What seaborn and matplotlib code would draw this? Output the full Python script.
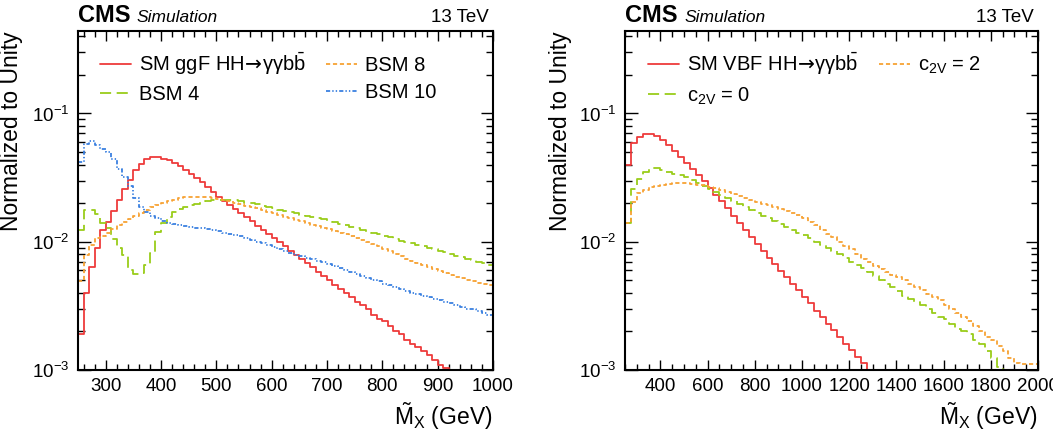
import numpy as np
import pandas as pd
import matplotlib
matplotlib.use("Agg")
import matplotlib.pyplot as plt
import seaborn as sns
from matplotlib.ticker import MultipleLocator, LogLocator, NullFormatter

# ========== DATA ==========
# left panel: ggF, 10 GeV bins from 250 to 1000
ggf_edges = np.arange(250, 1001, 10)
ggf_sm = [0.0019, 0.0040, 0.0063, 0.0090, 0.0124, 0.0143, 0.0175, 0.0213, 0.0260, 0.0305,
          0.0365, 0.0407, 0.0440, 0.0455, 0.0455, 0.0445, 0.0430, 0.0410, 0.0390, 0.0365,
          0.0340, 0.0315, 0.0290, 0.0268, 0.0245,
          0.0225, 0.0209, 0.0194, 0.0180, 0.0167, 0.0155, 0.0144, 0.0133, 0.0124, 0.0115,
          0.0107, 0.0099, 0.0092, 0.0085, 0.0079, 0.0073, 0.0068, 0.0063, 0.0058, 0.0054,
          0.0050, 0.0046, 0.0043, 0.0040, 0.0037, 0.0034, 0.0032, 0.0030, 0.0027, 0.0025,
          0.0024, 0.0022, 0.0020, 0.0019, 0.0017, 0.0016, 0.0015, 0.0014, 0.0013, 0.0012,
          0.0011, 0.00103, 0.00096, 0.00089, 0.00082, 0.00076, 0.00071, 0.00066, 0.00061, 0.00056]
bsm4 = [0.0124, 0.0178, 0.0178, 0.0165, 0.0140, 0.0128, 0.0105, 0.0089, 0.0079, 0.0060,
        0.0056, 0.0057, 0.0066, 0.0082, 0.0119, 0.0139, 0.0155, 0.0172, 0.0180, 0.0188,
        0.0192, 0.0198, 0.0203, 0.0206, 0.0210,
        0.0212, 0.0213, 0.0212, 0.0210, 0.0207, 0.0202, 0.0200, 0.0196, 0.0190, 0.0186,
        0.0182, 0.0178, 0.0174, 0.0171, 0.0167, 0.0163, 0.0160, 0.0156, 0.0153, 0.0150,
        0.0146, 0.0142, 0.0138, 0.0134, 0.0130, 0.0127, 0.0123, 0.0120, 0.0117, 0.0114,
        0.0111, 0.0108, 0.0105, 0.0102, 0.0100, 0.0097, 0.0095, 0.0092, 0.0090, 0.0087,
        0.0085, 0.0083, 0.0080, 0.0078, 0.0076, 0.0074, 0.0072, 0.0070, 0.0068, 0.0066]
bsm8 = [0.0049, 0.0079, 0.0095, 0.0106, 0.0110, 0.0118, 0.0126, 0.0134, 0.0142, 0.0150,
        0.0158, 0.0167, 0.0176, 0.0185, 0.0193, 0.0200, 0.0207, 0.0213, 0.0218, 0.0222,
        0.0224, 0.0225, 0.0224, 0.0222, 0.0219,
        0.0215, 0.0211, 0.0206, 0.0201, 0.0196, 0.0191, 0.0187, 0.0183, 0.0178, 0.0172,
        0.0167, 0.0162, 0.0157, 0.0152, 0.0148, 0.0144, 0.0140, 0.0136, 0.0132, 0.0129,
        0.0126, 0.0122, 0.0118, 0.0114, 0.0110, 0.0107, 0.0104, 0.0100, 0.0096, 0.0092,
        0.0088, 0.0084, 0.0080, 0.0077, 0.0074, 0.0071, 0.0068, 0.0066, 0.0063, 0.0061,
        0.0059, 0.0057, 0.0055, 0.0053, 0.0052, 0.0050, 0.0049, 0.0048, 0.0047, 0.0046]
bsm10 = [0.042, 0.058, 0.061, 0.057, 0.053, 0.050, 0.044, 0.037, 0.032, 0.027,
         0.0218, 0.0188, 0.0172, 0.0160, 0.0152, 0.0145, 0.0139, 0.0137, 0.0135, 0.0133,
         0.0131, 0.0129, 0.0127, 0.0125, 0.0123,
         0.0121, 0.0118, 0.0115, 0.0113, 0.0110, 0.0107, 0.0104, 0.0100, 0.0097, 0.0094,
         0.0091, 0.0088, 0.0085, 0.0082, 0.0079, 0.0077, 0.0075, 0.0073, 0.0071, 0.0069,
         0.0067, 0.0065, 0.0062, 0.0060, 0.0058, 0.0056, 0.0054, 0.0052, 0.0050, 0.0049,
         0.0047, 0.0046, 0.0044, 0.0043, 0.0041, 0.0040, 0.0039, 0.0038, 0.0037, 0.0036,
         0.0035, 0.0034, 0.0033, 0.0032, 0.0031, 0.0030, 0.0030, 0.0029, 0.0028, 0.0027]

# right panel: VBF, 25 GeV bins from 250 to 2000
vbf_edges = np.arange(250, 2001, 25)
vbf_sm = [0.040, 0.059, 0.066, 0.069, 0.069, 0.067, 0.062, 0.057, 0.051, 0.046,
          0.041, 0.037, 0.033, 0.0295, 0.0262, 0.0233, 0.0207, 0.0184, 0.0158, 0.0139,
          0.0123, 0.0109, 0.0096, 0.0085, 0.0075, 0.0067, 0.0059, 0.0053, 0.0047, 0.0042,
          0.0037, 0.0033, 0.0029, 0.0026, 0.0023, 0.00205, 0.0018, 0.0016, 0.00143, 0.00127,
          0.00113, 0.00100, 0.00089, 0.0008, 0.0007, 0.00062, 0.00055, 0.0005, 0.00044, 0.0004,
          0.00035, 0.00031, 0.00028, 0.00025, 0.00022, 0.0002, 0.00018, 0.00016, 0.00014, 0.00012,
          0.00011, 0.0001, 0.00009, 0.00008, 0.00007, 0.00006, 0.00005, 0.00005, 0.00004, 0.00004]
c2v0 = [0.0139, 0.026, 0.031, 0.035, 0.0375, 0.0378, 0.0365, 0.0352, 0.0340, 0.0330,
        0.0320, 0.0305, 0.0289, 0.0273, 0.0259, 0.0245, 0.0232, 0.0220, 0.0209, 0.0198,
        0.0188, 0.0178, 0.0169, 0.0160, 0.0152, 0.0144, 0.0137, 0.0130, 0.0124, 0.0118,
        0.0112, 0.0106, 0.0100, 0.0095, 0.0090, 0.0085, 0.0080, 0.0075, 0.0070, 0.0066,
        0.0062, 0.0058, 0.0054, 0.0050, 0.0047, 0.0044, 0.0041, 0.0038, 0.0036, 0.0034,
        0.0032, 0.0030, 0.0028, 0.0026, 0.0025, 0.0023, 0.0021, 0.0020, 0.0019, 0.0017,
        0.0016, 0.0014, 0.00125, 0.00105, 0.00095, 0.00092, 0.0009, 0.0009, 0.0009, 0.0009]
c2v2 = [0.0139, 0.0205, 0.0238, 0.0255, 0.0265, 0.0274, 0.0279, 0.0283, 0.0285, 0.0286,
        0.0285, 0.0283, 0.0279, 0.0275, 0.0269, 0.0262, 0.0254, 0.0246, 0.0237, 0.0228,
        0.0220, 0.0212, 0.0204, 0.0198, 0.0193, 0.0186, 0.0180, 0.0174, 0.0168, 0.0161,
        0.0152, 0.0143, 0.0134, 0.0124, 0.0115, 0.0108, 0.0100, 0.0093, 0.0087, 0.0080,
        0.0074, 0.0069, 0.0065, 0.0061, 0.0058, 0.0055, 0.0053, 0.0050, 0.0047, 0.0044,
        0.0042, 0.0039, 0.0037, 0.0035, 0.0032, 0.0030, 0.0028, 0.0026, 0.0024, 0.0022,
        0.0020, 0.0018, 0.0017, 0.00155, 0.0014, 0.00125, 0.00113, 0.00112, 0.00112, 0.00112]

left_labels = [r"SM ggF HH$\!\mathsf{\rightarrow}\!$γγb$\bar{\mathrm{b}}$", "BSM 4", "BSM 8", "BSM 10"]
right_labels = [r"SM VBF HH$\!\mathsf{\rightarrow}\!$γγb$\bar{\mathrm{b}}$",
                r"c$_{\mathrm{2V}}$ = 0", r"c$_{\mathrm{2V}}$ = 2"]

# ========== STYLE ==========
sns.set_style("ticks")
plt.rcParams["font.family"] = ["Liberation Sans", "DejaVu Sans"]
plt.rcParams["mathtext.fontset"] = "custom"
plt.rcParams["mathtext.rm"] = "Liberation Sans"
plt.rcParams["mathtext.it"] = "Liberation Sans:italic"
plt.rcParams["mathtext.bf"] = "Liberation Sans:bold"
plt.rcParams["mathtext.sf"] = "DejaVu Sans"
plt.rcParams["lines.scale_dashes"] = False
for key in ["axes.edgecolor", "xtick.color", "ytick.color", "text.color", "axes.labelcolor"]:
    plt.rcParams[key] = "black"

RED = "#ee3b3b"
GREEN = "#9acd1a"
ORANGE = "#f7a234"
BLUE = "#3a80e0"

styles = {
    "sm": dict(color=RED, linestyle="-"),
    "green": dict(color=GREEN, linestyle=(0, (8, 4))),
    "orange": dict(color=ORANGE, linestyle=(0, (3, 2))),
    "blue": dict(color=BLUE, linestyle=(0, (3, 1.5, 1, 1.5, 1, 1.5))),
}

fig = plt.figure(figsize=(10.53, 4.38), dpi=100)
ax1 = fig.add_axes([0.0741, 0.1553, 0.394, 0.774])
ax2 = fig.add_axes([0.5935, 0.1553, 0.3922, 0.774])


def draw_hist(ax, edges, values, style):
    df = pd.DataFrame({"mx": edges[:-1] + np.diff(edges) / 2, "w": values})
    sns.histplot(data=df, x="mx", weights="w", bins=[float(e) for e in edges],
                 element="step", fill=False, ax=ax, linewidth=1.3, **style)


for vals, key in [(ggf_sm, "sm"), (bsm4, "green"), (bsm8, "orange"), (bsm10, "blue")]:
    draw_hist(ax1, ggf_edges, vals, styles[key])
for vals, key in [(vbf_sm, "sm"), (c2v0, "green"), (c2v2, "orange")]:
    draw_hist(ax2, vbf_edges, vals, styles[key])


def style_axes(ax, xlim, major, minor, ylab_x, sim_x):
    ax.set_yscale("log")
    ax.set_ylim(1e-3, 0.44)
    ax.set_xlim(*xlim)
    ax.xaxis.set_major_locator(MultipleLocator(major))
    ax.xaxis.set_minor_locator(MultipleLocator(minor))
    ax.yaxis.set_major_locator(LogLocator(base=10))
    ax.yaxis.set_minor_locator(LogLocator(base=10, subs=np.arange(2, 10)))
    ax.yaxis.set_minor_formatter(NullFormatter())
    ax.tick_params(which="both", direction="in", top=True, right=True,
                   labelsize=13.5, width=1.0, pad=6)
    ax.tick_params(axis="y", which="major", length=9)
    ax.tick_params(axis="y", which="minor", length=5)
    ax.tick_params(axis="x", which="major", length=7.5)
    ax.tick_params(axis="x", which="minor", length=4)
    for sp in ax.spines.values():
        sp.set_linewidth(1.5)
    ax.set_ylabel("Normalized to Unity", fontsize=16.5, loc="top")
    ax.yaxis.set_label_coords(ylab_x, 1.0)
    ax.set_xlabel(r"$\tilde{\mathrm{M}}_{\mathrm{X}}$ (GeV)", fontsize=16.5, loc="right")
    ax.xaxis.set_label_coords(1.0, -0.09)
    ax.text(0.0, 1.027, "CMS", transform=ax.transAxes, fontsize=17, fontweight="bold",
            va="baseline", ha="left")
    ax.text(sim_x, 1.027, "Simulation", transform=ax.transAxes, fontsize=12.5,
            fontstyle="italic", va="baseline", ha="left")
    ax.text(0.99, 1.027, "13 TeV", transform=ax.transAxes, fontsize=13.5,
            va="baseline", ha="right")


style_axes(ax1, (250, 1000), 100, 20, -0.133, 0.142)
style_axes(ax2, (250, 2000), 200, 50, -0.128, 0.143)

for ax, labels, anchor in [(ax1, left_labels, (0.053, 0.944)), (ax2, right_labels, (0.056, 0.944))]:
    handles = ax.get_lines()[:len(labels)]
    ax.legend(handles, labels, ncol=2, frameon=False, loc="upper left",
              bbox_to_anchor=anchor, borderaxespad=0, borderpad=0,
              fontsize=14.5, handlelength=1.55, handletextpad=0.4,
              columnspacing=1.0, labelspacing=0.42)

plt.savefig("out.png", dpi=100)
plt.close()
